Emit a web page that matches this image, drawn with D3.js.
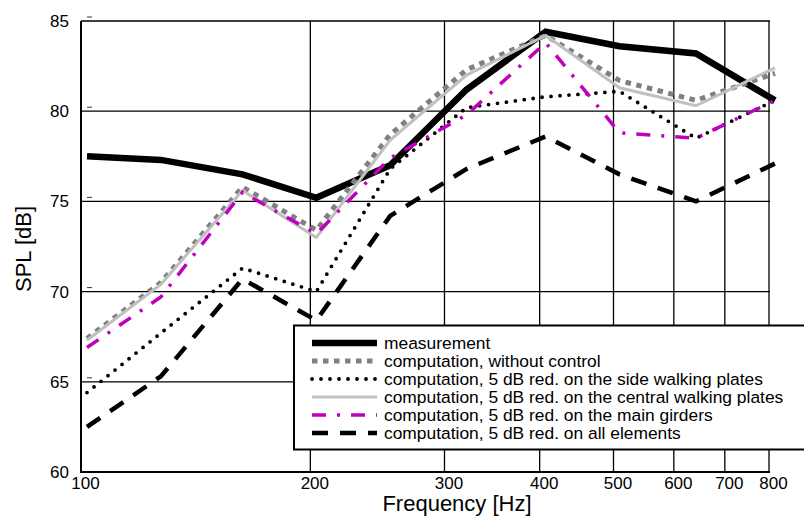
<!DOCTYPE html>
<html>
<head>
<meta charset="utf-8">
<script src="https://cdn.jsdelivr.net/npm/d3@7"></script>
<style>
  body { margin: 0; background: #fff; }
  svg { display: block; font-family: "Liberation Sans", Arial, sans-serif; }
</style>
</head>
<body>
<svg id="chart" width="804" height="517"></svg>
<script>
// band centre frequencies [Hz]
var freqs = [100, 125, 160, 200, 250, 315, 400, 500, 630, 800];

// SPL [dB] per series
var measurement   = [77.5, 77.3, 76.5, 75.2, 77.0, 81.2, 84.4, 83.6, 83.2, 80.6];
var withoutCtrl   = [67.4, 70.5, 75.8, 73.4, 78.7, 82.3, 84.2, 81.7, 80.6, 82.1];
var sidePlates    = [64.4, 67.7, 71.3, 70.0, 76.8, 80.2, 80.8, 81.1, 78.5, 80.6];
var centralPlates = [67.3, 70.4, 75.6, 73.0, 78.4, 82.0, 84.2, 81.3, 80.3, 82.4];
var mainGirders   = [66.9, 69.7, 75.5, 73.2, 77.4, 79.8, 83.8, 78.8, 78.5, 80.6];
var allElements   = [62.5, 65.3, 70.7, 68.4, 74.2, 76.8, 78.6, 76.5, 75.0, 77.1];

var xTicks = [100, 200, 300, 400, 500, 600, 700, 800];
var yTicks = [60, 65, 70, 75, 80, 85];

var legendLabels = [
  "measurement",
  "computation, without control",
  "computation, 5 dB red. on the side walking plates",
  "computation, 5 dB red. on the central walking plates",
  "computation, 5 dB red. on the main girders",
  "computation, 5 dB red. on all elements"
];

// styles per series, same order as legend
var styles = [
  {data: measurement,   color: "#000000", width: 6.5, dash: null,           cap: "butt"},
  {data: withoutCtrl,   color: "#808080", width: 5,   dash: "5.5,5.5",      cap: "butt"},
  {data: sidePlates,    color: "#000000", width: 3.8, dash: "0,9",          cap: "round"},
  {data: centralPlates, color: "#c0c0c0", width: 3,   dash: null,           cap: "butt"},
  {data: mainGirders,   color: "#c000c0", width: 3.5, dash: "14,11,3,11",   cap: "butt"},
  {data: allElements,   color: "#000000", width: 4.5, dash: "16,12",        cap: "butt"}
];

(function() {
var svg = d3.select("#chart");
var pLeft = 81, pRight = 769, pTop = 21, pBottom = 472;

var x = d3.scaleLog().domain([100, 800]).range([pLeft, pRight]);
// the curves sit a few pixels right of the grid in the original
var xd = d3.scaleLog().domain([100, 800]).range([pLeft + 6, pRight + 6]);
var y = d3.scaleLinear().domain([60, 85]).range([pBottom, pTop]);

var grid = svg.append("g");
// horizontal grid
grid.selectAll("line.h")
  .data(yTicks.filter(function(d) { return d > 60; }))
  .enter().append("line")
    .attr("x1", pLeft).attr("x2", pRight + 1)
    .attr("y1", function(d) { return y(d); })
    .attr("y2", function(d) { return y(d); })
    .attr("stroke", "#000").attr("stroke-width", 1.3);
// vertical grid
grid.selectAll("line.v")
  .data(xTicks.filter(function(d) { return d > 100; }))
  .enter().append("line")
    .attr("x1", function(d) { return x(d); })
    .attr("x2", function(d) { return x(d); })
    .attr("y1", pTop).attr("y2", pBottom)
    .attr("stroke", "#000").attr("stroke-width", 1.3);
// axes lines
grid.append("line").attr("x1", pLeft).attr("x2", pLeft).attr("y1", pTop).attr("y2", pBottom + 1)
  .attr("stroke", "#000").attr("stroke-width", 2);
grid.append("line").attr("x1", pLeft).attr("x2", pRight + 1).attr("y1", pBottom).attr("y2", pBottom)
  .attr("stroke", "#000").attr("stroke-width", 2);

// little dashes next to y labels
grid.selectAll("line.m")
  .data(yTicks.filter(function(d) { return d > 60; }))
  .enter().append("line")
    .attr("x1", pLeft + 6).attr("x2", pLeft + 11)
    .attr("y1", function(d) { return y(d) - 4; })
    .attr("y2", function(d) { return y(d) - 4; })
    .attr("stroke", "#000").attr("stroke-width", 0.8);

// tick labels
var yAxis = svg.append("g")
  .attr("transform", "translate(" + (pLeft - 12) + ",0)")
  .call(d3.axisLeft(y).tickValues(yTicks).tickSize(0).tickPadding(0));
yAxis.select(".domain").remove();
yAxis.selectAll("text").attr("font-size", 17).attr("fill", "#000")
  .attr("font-family", "Liberation Sans, Arial, sans-serif");

var xAxis = svg.append("g")
  .attr("transform", "translate(4," + (pBottom + 5) + ")")
  .call(d3.axisBottom(x).tickValues(xTicks).tickFormat(d3.format("d")).tickSize(0).tickPadding(0));
xAxis.select(".domain").remove();
xAxis.selectAll("text").attr("font-size", 17).attr("fill", "#000")
  .attr("font-family", "Liberation Sans, Arial, sans-serif");

// axis titles
svg.append("text")
  .attr("x", 457).attr("y", 511)
  .attr("text-anchor", "middle").attr("font-size", 22)
  .text("Frequency [Hz]");
svg.append("text")
  .attr("transform", "translate(31,249) rotate(-90)")
  .attr("text-anchor", "middle").attr("font-size", 22)
  .text("SPL [dB]");

// series
var line = d3.line()
  .x(function(d, i) { return xd(freqs[i]); })
  .y(function(d) { return y(d); });

styles.forEach(function(s) {
  svg.append("path")
    .datum(s.data)
    .attr("d", line)
    .attr("fill", "none")
    .attr("stroke", s.color)
    .attr("stroke-width", s.width)
    .attr("stroke-dasharray", s.dash)
    .attr("stroke-linecap", s.cap)
    .attr("stroke-linejoin", "miter");
});

// legend
var lg = svg.append("g");
lg.append("rect")
  .attr("x", 294).attr("y", 325.5).attr("width", 515).attr("height", 124)
  .attr("fill", "#fff").attr("stroke", "#000").attr("stroke-width", 2);

legendLabels.forEach(function(label, i) {
  var s = styles[i];
  var yy = 343 + i * 18;
  lg.append("line")
    .attr("x1", 312).attr("x2", 377)
    .attr("y1", yy).attr("y2", yy)
    .attr("stroke", s.color)
    .attr("stroke-width", s.width)
    .attr("stroke-dasharray", s.dash)
    .attr("stroke-linecap", s.cap);
  lg.append("text")
    .attr("x", 384).attr("y", yy + 6)
    .attr("font-size", 17.4)
    .text(label);
});
})();
</script>
</body>
</html>
